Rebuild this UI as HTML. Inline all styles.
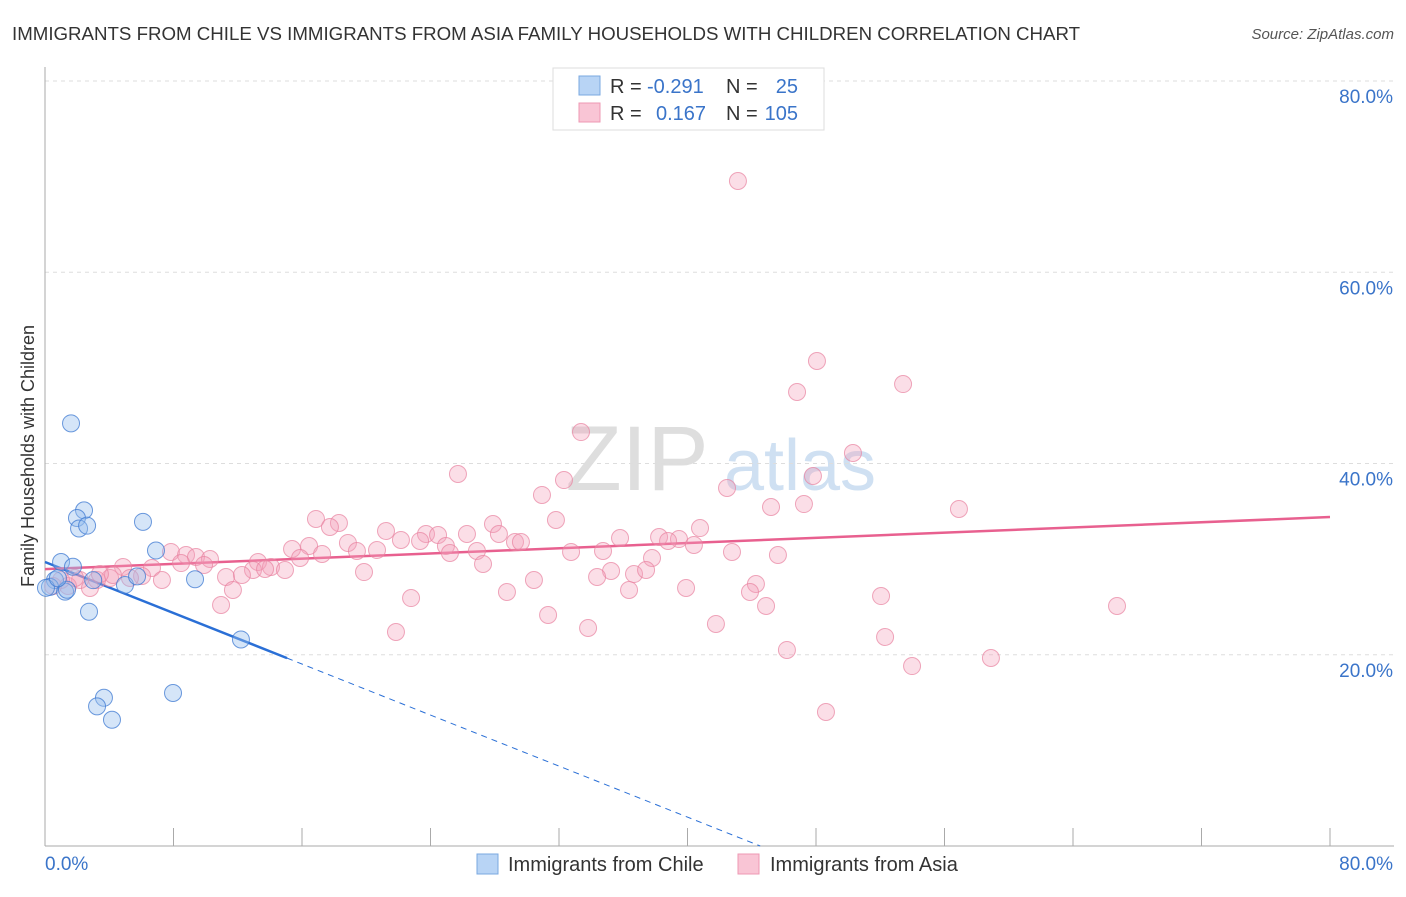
<!DOCTYPE html>
<html><head><meta charset="utf-8"><style>
body{margin:0;background:#fff;font-family:"Liberation Sans",sans-serif;}
svg text{font-family:"Liberation Sans",sans-serif;}
</style></head><body>
<svg id="chart" width="1406" height="892" xmlns="http://www.w3.org/2000/svg">
<text x="12" y="40" font-size="18.7" fill="#333">IMMIGRANTS FROM CHILE VS IMMIGRANTS FROM ASIA FAMILY HOUSEHOLDS WITH CHILDREN CORRELATION CHART</text>
<text x="1394" y="39" font-size="15" fill="#555" text-anchor="end" font-style="italic">Source: ZipAtlas.com</text>
<text x="637" y="490" font-size="92" fill="#dedede" text-anchor="middle" font-family="Liberation Serif">ZIP</text>
<text x="800" y="490" font-size="72" fill="#cfe0f2" text-anchor="middle">atlas</text>
<g id="grid"></g><g id="trends"></g><g id="pts"></g>
<text transform="translate(34,456) rotate(-90)" font-size="18" fill="#333" text-anchor="middle">Family Households with Children</text>
<g>
<rect x="553" y="68" width="271" height="62" fill="#fff" stroke="#ddd"/>
<rect x="579" y="76" width="21" height="19" fill="#b8d4f5" stroke="#7aa8e0"/>
<rect x="579" y="103" width="21" height="19" fill="#f9c5d5" stroke="#ee98b3"/>
<text x="610" y="93" font-size="20" fill="#333">R =</text>
<text x="647" y="93" font-size="20" fill="#3a74c9">-0.291</text>
<text x="726" y="93" font-size="20" fill="#333">N =</text>
<text x="798" y="93" font-size="20" fill="#3a74c9" text-anchor="end">25</text>
<text x="610" y="120" font-size="20" fill="#333">R =</text>
<text x="656" y="120" font-size="20" fill="#3a74c9">0.167</text>
<text x="726" y="120" font-size="20" fill="#333">N =</text>
<text x="798" y="120" font-size="20" fill="#3a74c9" text-anchor="end">105</text>
</g>
<g>
<rect x="477" y="854" width="21" height="20" fill="#b8d4f5" stroke="#7aa8e0"/>
<text x="508" y="871" font-size="20" fill="#333">Immigrants from Chile</text>
<rect x="738" y="854" width="21" height="20" fill="#f9c5d5" stroke="#ee98b3"/>
<text x="770" y="871" font-size="20" fill="#333">Immigrants from Asia</text>
</g>
</svg>
<script>
const chileX=[1.62,2.43,1.99,2.12,2.62,6.1,6.91,1.0,1.74,0.62,0.31,1.25,1.37,4.98,5.73,9.34,2.74,12.2,7.97,3.67,3.24,4.17,0.06,0.8,3.0];
const chileY=[44.2,35.1,34.3,33.2,33.5,33.9,30.9,29.7,29.2,27.8,27.1,26.6,26.8,27.3,28.2,27.9,24.5,21.6,16.0,15.5,14.6,13.2,27.0,28.0,27.8];
const asiaPx=[[738,181],[817,361],[797,392],[903,384],[581,432],[853,453],[458,474],[813,476],[727,488],[564,480],[542,495],[771,507],[804,504],[959,509],[316,519],[339,523],[330,527],[556,520],[493,524],[700,528],[386,531],[426,534],[438,535],[467,534],[499,534],[620,538],[659,537],[679,539],[668,541],[348,543],[401,540],[420,541],[446,546],[515,542],[521,542],[292,549],[309,546],[322,554],[357,551],[377,550],[450,553],[477,551],[571,552],[603,551],[694,545],[732,552],[778,555],[652,558],[171,552],[186,555],[196,557],[210,559],[181,563],[204,565],[300,558],[258,562],[271,567],[253,570],[285,570],[123,567],[152,568],[110,578],[97,580],[80,580],[68,586],[90,588],[61,580],[142,576],[162,580],[113,575],[226,577],[242,575],[265,569],[364,572],[483,564],[611,571],[634,574],[646,570],[534,580],[597,577],[756,584],[750,592],[629,590],[686,588],[507,592],[411,598],[221,605],[233,590],[881,596],[766,606],[1117,606],[548,615],[716,624],[588,628],[396,632],[885,637],[787,650],[991,658],[912,666],[826,712],[130,578],[100,574],[53,586],[75,578]];
// asia values derived from reading (percent)
const asiaX=asiaPx.map(p=>+((p[0]-45)/16.0625).toFixed(2));
const asiaY=asiaPx.map(p=>+((846-p[1])/9.5625).toFixed(2));
const yTicks=[20,40,60,80];
const yTickLabels=["20.0%","40.0%","60.0%","80.0%"];
const chileTrend=[29.7,-0.667];
const asiaTrend=[28.96,0.068];

const NS="http://www.w3.org/2000/svg";
const X=v=>45+v*16.0625, Y=v=>846-v*9.5625;
function mk(t,a,parent){const e=document.createElementNS(NS,t);for(const k in a)e.setAttribute(k,a[k]);document.getElementById(parent).appendChild(e);return e;}
yTicks.forEach((t,i)=>{
 const l=mk('line',{x1:45,x2:1394,y1:Y(t),y2:Y(t),stroke:'#ddd','stroke-dasharray':'4,4'},'grid');
 
 
 const tx=mk('text',{x:1393,y:Y(t)+22,'font-size':19,fill:'#3a74c9','text-anchor':'end'},'grid');tx.textContent=yTickLabels[i];
 
 
});
let ax=mk('line',{x1:45,x2:45,y1:67,y2:846,stroke:'#aaa'},'grid');


let bx=mk('line',{x1:45,x2:1394,y1:846,y2:846,stroke:'#aaa'},'grid');


for(let i=1;i<=10;i++){const t=mk('line',{x1:X(i*8),x2:X(i*8),y1:828,y2:846,stroke:'#aaa'},'grid');
 
 }
const xl0=mk('text',{x:45,y:870,'font-size':19,fill:'#3a74c9'},'grid');xl0.textContent='0.0%';


const xl1=mk('text',{x:1393,y:870,'font-size':19,fill:'#3a74c9','text-anchor':'end'},'grid');xl1.textContent='80.0%';


asiaX.forEach((x,i)=>{const c=mk('circle',{cx:X(x),cy:Y(asiaY[i]),r:8.5,fill:'rgba(244,160,186,0.35)',stroke:'rgba(232,130,160,0.7)','stroke-width':1},'pts');
 
 });
chileX.forEach((x,i)=>{const c=mk('circle',{cx:X(x),cy:Y(chileY[i]),r:8.5,fill:'rgba(150,190,238,0.4)',stroke:'rgba(60,120,210,0.75)','stroke-width':1},'pts');
 
 });
const bEnd=15.07, bZero=-chileTrend[0]/chileTrend[1];
let l1=mk('line',{x1:X(0),y1:Y(chileTrend[0]),x2:X(bEnd),y2:Y(chileTrend[0]+chileTrend[1]*bEnd),stroke:'#2a6fd6','stroke-width':2.5},'trends');


let l2=mk('line',{x1:X(bEnd),y1:Y(chileTrend[0]+chileTrend[1]*bEnd),x2:X(bZero),y2:Y(0),stroke:'#2a6fd6','stroke-width':1,'stroke-dasharray':'6,5'},'trends');


let l3=mk('line',{x1:X(0),y1:Y(asiaTrend[0]),x2:X(80),y2:Y(asiaTrend[0]+asiaTrend[1]*80),stroke:'#e8608f','stroke-width':2.5},'trends');


</script>
</body></html>
